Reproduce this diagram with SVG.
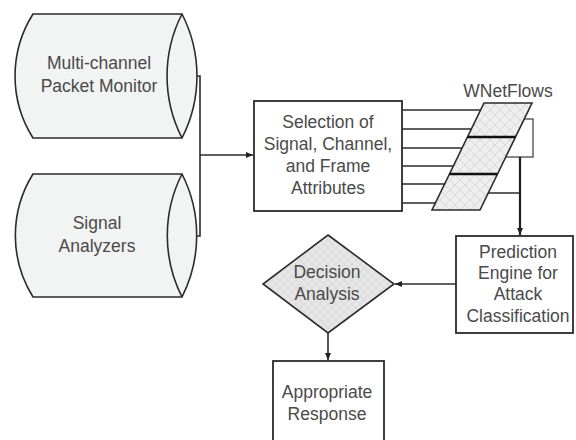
<svg xmlns="http://www.w3.org/2000/svg" width="576" height="440" viewBox="0 0 576 440">
<style>
.t{font-family:"Liberation Sans",Arial,sans-serif;font-size:17.5px;fill:#4a4a4a;text-anchor:middle}
.ln{stroke:#2b2b2b;stroke-width:1.6;fill:none}
.box{fill:#ffffff;stroke:#2b2b2b;stroke-width:1.8}
.cyl{fill:#f2f3f3;stroke:#2b2b2b;stroke-width:1.6}
</style>
<defs>
<pattern id="hatch" patternUnits="userSpaceOnUse" width="10" height="10">
<rect width="10" height="10" fill="#efefef"/>
<path d="M0,0 L10,10 M10,0 L0,10" stroke="#cfcfcf" stroke-width="0.7"/>
</pattern>
<pattern id="hatch2" patternUnits="userSpaceOnUse" width="8" height="8">
<rect width="8" height="8" fill="#e6e6e6"/>
<path d="M0,0 L8,8 M8,0 L0,8" stroke="#d0d0d0" stroke-width="0.6"/>
</pattern>
<marker id="arr" markerUnits="userSpaceOnUse" markerWidth="8" markerHeight="6" refX="7" refY="3" orient="auto">
<path d="M0,0 L7,3 L0,6 z" fill="#222"/>
</marker>
</defs>

<g id="connectors">
<path class="ln" d="M181,76 H200 V236 H181"/>
<path class="ln" d="M200,155 H253" marker-end="url(#arr)"/>
<path class="ln" d="M402,110 H484 M402,129 H484 M402,148 H484 M402,166 H484 M402,184 H484 M402,203 H484"/>
<rect x="500" y="119" width="33" height="38" fill="none" stroke="#555" stroke-width="1.4"/>
<path class="ln" d="M480,193 H520"/>
<path d="M520,157 V235" stroke="#1e1e1e" stroke-width="2.2" fill="none" marker-end="url(#arr)"/>
<path class="ln" d="M456,284 H395" marker-end="url(#arr)"/>
<path class="ln" d="M328,333 V360" marker-end="url(#arr)"/>
</g>

<g id="packet-monitor">
<path class="cyl" d="M33,14 H182 A136,136 0 0 1 182,138 H33 A116,116 0 0 1 33,14 Z"/>
<path class="cyl" d="M182,14 A136,136 0 0 0 182,138"/>
<text class="t" x="99" y="69">Multi-channel</text>
<text class="t" x="99" y="92">Packet Monitor</text>
</g>

<g id="signal-analyzers">
<path class="cyl" d="M33,174 H182 A136,136 0 0 1 182,297 H33 A116,116 0 0 1 33,174 Z"/>
<path class="cyl" d="M182,174 A136,136 0 0 0 182,297"/>
<text class="t" x="97" y="229">Signal</text>
<text class="t" x="97" y="252">Analyzers</text>
</g>

<g id="selection">
<rect class="box" x="254" y="101" width="148" height="110"/>
<text class="t" x="328" y="128">Selection of</text>
<text class="t" x="328" y="150">Signal, Channel,</text>
<text class="t" x="328" y="172">and Frame</text>
<text class="t" x="328" y="194">Attributes</text>
</g>

<g id="wnetflows">
<path d="M484,103 H532 L480,210 H432 Z" fill="url(#hatch)" stroke="#2b2b2b" stroke-width="1.6"/>
<path d="M467.5,137 H515.5 M449.5,174 H497.5" stroke="#111" stroke-width="2.6"/>
<text class="t" x="508" y="97">WNetFlows</text>
</g>

<g id="prediction">
<rect class="box" x="456" y="236" width="117" height="97"/>
<text class="t" x="518" y="258">Prediction</text>
<text class="t" x="518" y="279">Engine for</text>
<text class="t" x="518" y="300">Attack</text>
<text class="t" x="518" y="322">Classification</text>
</g>

<g id="decision">
<path d="M328,235 L394,284 L328,333 L263,284 Z" fill="url(#hatch2)" stroke="#2b2b2b" stroke-width="1.6"/>
<text class="t" x="327" y="278">Decision</text>
<text class="t" x="327" y="300">Analysis</text>
</g>

<g id="response">
<rect class="box" x="273" y="361" width="111" height="90"/>
<text class="t" x="327" y="398">Appropriate</text>
<text class="t" x="327" y="420">Response</text>
</g>
</svg>
